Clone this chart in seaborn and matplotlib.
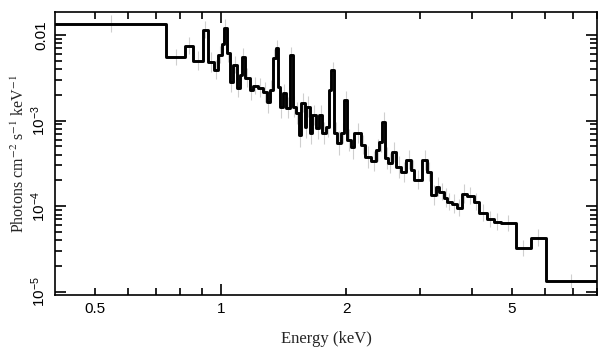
import numpy as np
import pandas as pd
import matplotlib
matplotlib.use('Agg')
import matplotlib.pyplot as plt
from matplotlib.ticker import FixedLocator, FixedFormatter, LogLocator, NullFormatter
import seaborn as sns

# bin edges (keV) of the unfolded spectrum
edges = [0.40, 0.74, 0.82, 0.857, 0.906, 0.931, 0.962, 0.984, 1.006, 1.017,
         1.034, 1.051, 1.068, 1.092, 1.110, 1.123, 1.141, 1.173, 1.193, 1.226,
         1.260, 1.288, 1.310, 1.331, 1.354, 1.369, 1.384, 1.407, 1.431, 1.463,
         1.487, 1.512, 1.537, 1.562, 1.589, 1.606, 1.633, 1.660, 1.697, 1.725,
         1.754, 1.793, 1.823, 1.843, 1.874, 1.905, 1.948, 1.980, 2.013, 2.058,
         2.092, 2.175, 2.223, 2.297, 2.362, 2.401, 2.441, 2.481, 2.523, 2.579,
         2.637, 2.710, 2.786, 2.864, 2.911, 3.042, 3.127, 3.197, 3.286, 3.341,
         3.434, 3.492, 3.589, 3.690, 3.793, 3.898, 4.053, 4.166, 4.353, 4.524,
         4.702, 5.108, 5.546, 6.026, 8.0]

# photons cm^-2 s^-1 keV^-1 in each bin
flux = [0.01344, 0.00554, 0.00744, 0.00497, 0.01144, 0.00484, 0.00391, 0.00584,
        0.00785, 0.01207, 0.00617, 0.00283, 0.00447, 0.00241, 0.00341, 0.00554,
        0.00315, 0.00228, 0.00254, 0.00241, 0.00216, 0.00165, 0.00228, 0.00539,
        0.00705, 0.00247, 0.00145, 0.00210, 0.00141, 0.00584, 0.00145, 0.00123,
        0.000681, 0.00161, 0.000844, 0.00145, 0.000719, 0.001165, 0.000822, 0.001165,
        0.000719, 0.000844, 0.00228, 0.00391, 0.000719, 0.000549, 0.000719, 0.001744,
        0.000595, 0.000493, 0.000719, 0.000521, 0.000377, 0.000339, 0.000455, 0.000564,
        0.000966, 0.000367, 0.000321, 0.000431, 0.000288, 0.000252, 0.000348, 0.000266,
        0.000203, 0.000348, 0.000252, 0.0001358, 0.0001684, 0.0001472, 0.0001253, 0.0001125,
        0.0001066, 0.0000957, 0.0001395, 0.0001322, 0.0001125, 0.0000838, 0.0000713, 0.0000658,
        0.0000640, 0.0000327, 0.0000428, 0.00001348]

# half length of the grey data error bars, in dex
err_dex = [0.10, 0.09, 0.10, 0.11, 0.10, 0.12, 0.11, 0.10,
           0.09, 0.10, 0.11, 0.12, 0.10, 0.11, 0.12, 0.10,
           0.11, 0.12, 0.10, 0.11, 0.12, 0.13, 0.11, 0.10,
           0.09, 0.12, 0.13, 0.11, 0.12, 0.09, 0.12, 0.13,
           0.14, 0.11, 0.13, 0.12, 0.13, 0.12, 0.13, 0.11,
           0.13, 0.12, 0.10, 0.09, 0.13, 0.14, 0.12, 0.10,
           0.13, 0.14, 0.12, 0.11, 0.13, 0.12, 0.13, 0.12,
           0.11, 0.13, 0.12, 0.12, 0.13, 0.12, 0.11, 0.12,
           0.11, 0.12, 0.11, 0.12, 0.11, 0.10, 0.11, 0.10,
           0.11, 0.10, 0.11, 0.10, 0.10, 0.10, 0.09, 0.10,
           0.09, 0.09, 0.10, 0.08]

xtick_major = [1]
xtick_minor = [0.5, 0.6, 0.7, 0.8, 0.9, 2, 3, 4, 5, 6, 7, 8]
xtick_minor_labels = ['0.5', '', '', '', '', '2', '', '', '5', '', '', '']
ytick_major = [1e-5, 1e-4, 1e-3, 1e-2]
ytick_labels = [r'$10^{-5}$', r'$10^{-4}$', r'$10^{-3}$', '0.01']

sns.set_theme(style='ticks')
plt.rcParams['font.family'] = ['Liberation Sans', 'DejaVu Sans']
plt.rcParams['mathtext.fontset'] = 'custom'
plt.rcParams['mathtext.rm'] = 'Liberation Sans'
plt.rcParams['mathtext.it'] = 'Liberation Sans:italic'

step = pd.DataFrame({'energy': edges, 'flux': flux + [flux[-1]]})
lo = np.array(edges[:-1])
hi = np.array(edges[1:])
centers = np.sqrt(lo * hi)
f = np.array(flux)
e = np.array(err_dex)

fig = plt.figure(figsize=(6.09, 3.57), dpi=100)
ax = fig.add_axes([0.0903, 0.1737, 0.8900, 0.7927])

ax.vlines(centers, f * 10**(-e), f * 10**e, color='#cfcfcf', lw=0.8, zorder=1)
sns.lineplot(data=step, x='energy', y='flux', drawstyle='steps-post', estimator=None,
             color='black', lw=2.1, ax=ax, zorder=3)

ax.set_xscale('log')
ax.set_yscale('log')
ax.set_xlim(0.4, 8.0)
ax.set_ylim(9.2e-6, 0.0185)

ax.xaxis.set_major_locator(FixedLocator(xtick_major))
ax.xaxis.set_major_formatter(FixedFormatter(['1']))
ax.xaxis.set_minor_locator(FixedLocator(xtick_minor))
ax.xaxis.set_minor_formatter(FixedFormatter(xtick_minor_labels))
ax.yaxis.set_major_locator(FixedLocator(ytick_major))
ax.yaxis.set_major_formatter(FixedFormatter(ytick_labels))
ax.yaxis.set_minor_locator(LogLocator(base=10, subs=np.arange(2, 10)))
ax.yaxis.set_minor_formatter(NullFormatter())

ax.tick_params(which='both', direction='in', top=True, right=True, width=1.2,
               colors='black', labelsize=11)
ax.tick_params(which='major', length=8)
ax.tick_params(which='minor', length=5)
ax.tick_params(axis='x', which='both', pad=5)
ax.tick_params(axis='y', which='both', pad=5, labelrotation=90)
for lab in ax.get_yticklabels():
    lab.set_va('center')

for sp in ax.spines.values():
    sp.set_linewidth(1.2)
    sp.set_color('black')

ax.set_xlabel('Energy (keV)', fontfamily='Liberation Serif', fontsize=12, labelpad=11)
ax.set_ylabel(r'Photons cm$^{-2}$ s$^{-1}$ keV$^{-1}$', fontfamily='Liberation Serif',
              math_fontfamily='stix', fontsize=11.5, labelpad=1)

fig.savefig('out.png', dpi=100)
